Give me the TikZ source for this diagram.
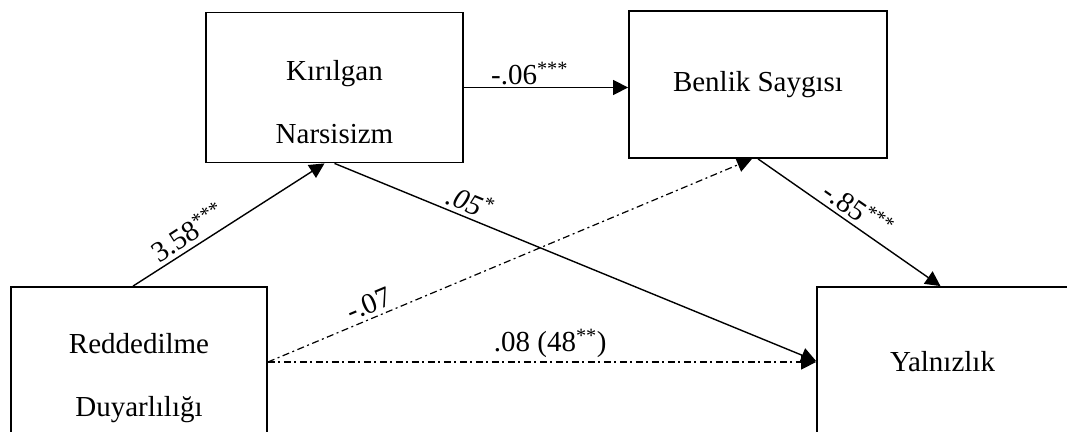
\documentclass[tikz,border=0pt]{standalone}
\usepackage{fontspec}
\setmainfont{Liberation Serif}
\usetikzlibrary{arrows.meta}
\tikzset{
    var-box/.style = {draw, line width=1.8pt, rectangle, minimum width=257pt, minimum height=150pt, inner sep=0pt},
    var-text/.style = {align=center, font=\fontsize{29}{63}\selectfont},
    path-arrow/.style = {line width=1.4pt, -{Triangle[length=15pt, width=15pt]}},
    path-dashdot/.style = {path-arrow, line width=1.2pt, dash pattern=on 7pt off 3.5pt on 2pt off 3.5pt},
    coef/.style = {font=\fontsize{29}{34}\selectfont, inner sep=4pt, sloped, above},
}

\begin{document}
\begin{tikzpicture}[x=1pt, y=-1pt]
\useasboundingbox (0,0) rectangle (1067,431);
\clip (0,0) rectangle (1067,431);

% variables
\node[var-box] (narsisizm) at (334.5, 87.5) {};
\node[var-text] (narsisizm-label) at ([yshift=-15pt]narsisizm.center) {Kırılgan\\Narsisizm};
\node[var-box, var-text, minimum width=258pt, minimum height=147pt] (benlik) at (758, 84.5) {Benlik Saygısı};
\node[var-box, minimum width=256pt] (red) at (139, 362) {};
\node[var-text] (red-label) at ([yshift=-16pt]red.center) {Reddedilme\\Duyarlılığı};
\node[var-box, var-text, minimum width=251pt] (yalniz) at (942.5, 362) {Yalnızlık};

% paths
\draw[path-arrow] ([xshift=-6pt]red.north) -- node[coef, pos=0.33] {3.58\textsuperscript{***}} ([xshift=-10pt]narsisizm.south);
\draw[path-arrow] (narsisizm.east) -- node[coef, pos=0.4, inner sep=2pt] {-.06\textsuperscript{***}} (narsisizm.east -| benlik.west);
\draw[path-arrow] (narsisizm.south) -- node[coef, pos=0.27] {\textit{.05}\textsuperscript{*}} ([yshift=1pt]yalniz.west);
\draw[path-arrow] (benlik.south) -- node[coef, pos=0.5] {-.85\textsuperscript{***}} ([xshift=-2pt]yalniz.north);
\draw[path-dashdot] (red.east) -- node[coef, pos=0.22] {-.07} ([xshift=-6pt]benlik.south);
\draw[path-dashdot] (red.east) -- node[coef, pos=0.515] {.08 (48\textsuperscript{**})} (yalniz.west);
\end{tikzpicture}
\end{document}
